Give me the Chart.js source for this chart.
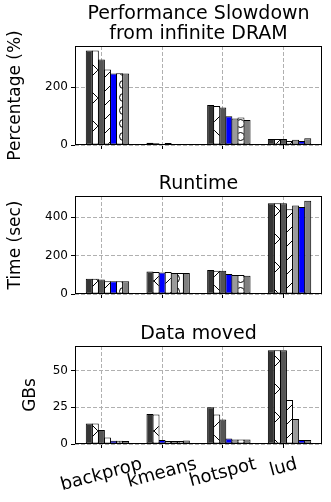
<!DOCTYPE html>
<html>
<head>
<meta charset="utf-8">
<script src="https://cdn.jsdelivr.net/npm/chart.js@4.4.0/dist/chart.umd.min.js"></script>
<style>
  body { margin: 0; background: #fff; }
  #wrap { position: relative; width: 331px; height: 502px; }
  canvas { position: absolute; left: 0; }
</style>
</head>
<body>
<div id="wrap">
  <canvas id="chartSlowdown" width="331" height="164" style="top:0"></canvas>
  <canvas id="chartRuntime" width="331" height="150" style="top:155px"></canvas>
  <canvas id="chartData" width="331" height="197" style="top:305px"></canvas>
</div>
<script>
Chart.defaults.font.family = "'DejaVu Sans', sans-serif";
Chart.defaults.color = '#000';

const categories = ['backprop', 'kmeans', 'hotspot', 'lud'];
// which configuration is highlighted in blue for each benchmark
const blueIndex = [4, 2, 3, 5];

// one row per configuration, values for backprop, kmeans, hotspot, lud
const slowdownPct = [
  [327, 8, 139, 21],
  [327, 6, 135, 21],
  [296, 3, 130, 21],
  [262, 7, 100, 14],
  [248, 1, 92, 18],
  [249, 1, 95, 14],
  [248, 1, 87, 23]
];
const runtimeSec = [
  [80, 117, 125, 473],
  [80, 115, 121, 473],
  [75, 112, 121, 473],
  [66, 115, 104, 442],
  [66, 110, 99, 462],
  [66, 110, 99, 453],
  [66, 110, 95, 486]
];
const dataMovedGB = [
  [14, 20.4, 25, 63.8],
  [14, 20, 20, 63.8],
  [9.5, 2.7, 16.7, 63.8],
  [4.5, 2, 3.8, 29.9],
  [2.2, 2, 3, 17],
  [2.2, 2, 3, 2.7],
  [2, 2.3, 3, 2.7]
];

const slowdownTicks = [0, 200];
const runtimeTicks = [0, 200, 400];
const dataMovedTicks = [0, 25, 50];

function hatch(kind) {
  const size = kind === 'o' ? 13 : (kind === 'x' ? 28 : 14);
  const c = document.createElement('canvas');
  c.width = c.height = size;
  const g = c.getContext('2d');
  g.fillStyle = '#fff';
  g.fillRect(0, 0, size, size);
  g.strokeStyle = '#000';
  g.lineWidth = 1;
  g.beginPath();
  if (kind === '/' || kind === 'x') {
    g.moveTo(-1, size + 1); g.lineTo(size + 1, -1);
  }
  if (kind === 'x') {
    g.moveTo(-1, -1); g.lineTo(size + 1, size + 1);
  }
  if (kind === 'o') {
    g.arc(size / 2, size / 2, 4, 0, Math.PI * 2);
  }
  g.stroke();
  return g.createPattern(c, 'repeat');
}

const baseFill = ['#353535', hatch('x'), '#555555', hatch('/'), '#9a9a9a', hatch('o'), '#808080'];

const panelDecor = {
  id: 'panelDecor',
  afterDraw(chart, args, opts) {
    const ctx = chart.ctx, a = chart.chartArea;
    ctx.save();
    ctx.strokeStyle = '#000';
    ctx.lineWidth = 1;
    ctx.strokeRect(Math.round(a.left) + 0.5, Math.round(a.top) + 0.5,
      Math.round(a.right - a.left) - 1, Math.round(a.bottom - a.top) - 1);

    ctx.fillStyle = '#000';
    ctx.font = '19px "DejaVu Sans"';
    ctx.textAlign = 'center';
    ctx.textBaseline = 'alphabetic';
    const cx = (a.left + a.right) / 2;
    const n = opts.title.length;
    opts.title.forEach((line, i) => {
      ctx.fillText(line, cx, a.top - 7 - (n - 1 - i) * 20);
    });

    if (opts.xLabels) {
      const xs = chart.scales.x;
      const th = 15 * Math.PI / 180;
      ctx.font = '18px "DejaVu Sans"';
      opts.xLabels.forEach((lab, i) => {
        const w = ctx.measureText(lab).width, h = 18 * 1.164;
        const H = w * Math.sin(th) + h * Math.cos(th);
        ctx.save();
        ctx.translate(xs.getPixelForValue(i), a.bottom + 10 + H / 2);
        ctx.rotate(-th);
        ctx.textBaseline = 'middle';
        ctx.fillText(lab, 0, 0);
        ctx.restore();
      });
    }
    ctx.restore();
  }
};

function makePanel(id, rows, o) {
  const datasets = rows.map((vals, k) => ({
    data: vals.map((v, i) => ({ x: i + 0.1, y: v })),
    backgroundColor: vals.map((v, i) => blueIndex[i] === k ? '#0000ff' : baseFill[k]),
    borderColor: '#000',
    borderWidth: 1,
    borderSkipped: false,
    categoryPercentage: 0.7,
    barPercentage: 1.15
  }));
  const gridStyle = { color: '#b0b0b0', lineWidth: 1, tickColor: '#000', tickLength: 4, offset: false };
  return new Chart(document.getElementById(id), {
    type: 'bar',
    data: { datasets },
    options: {
      responsive: false,
      animation: false,
      events: [],
      layout: { padding: { left: o.padLeft, right: 9, top: o.padTop, bottom: 0 } },
      plugins: {
        legend: { display: false },
        tooltip: { enabled: false },
        panelDecor: { title: o.title, xLabels: o.xLabels }
      },
      scales: {
        x: {
          type: 'linear',
          offset: false,
          min: -0.435,
          max: 3.635,
          afterBuildTicks: s => { s.ticks = categories.map((c, i) => ({ value: i })); },
          afterFit: s => { s.height = o.xHeight; },
          ticks: { display: false },
          grid: gridStyle,
          border: { display: false, dash: [4, 2] }
        },
        y: {
          min: 0,
          max: o.yMax,
          afterBuildTicks: s => { s.ticks = o.ticks.map(v => ({ value: v })); },
          afterFit: s => { s.width = 75 - o.padLeft; s.paddingTop = 0; s.paddingBottom = 0; },
          ticks: { font: { size: 12 }, color: '#000', padding: 3 },
          grid: gridStyle,
          border: { display: false, dash: [4, 2] },
          title: { display: true, text: o.yTitle, font: { size: 17 }, color: '#000', padding: { top: 0, bottom: 0 } }
        }
      }
    },
    plugins: [panelDecor]
  });
}

makePanel('chartSlowdown', slowdownPct, {
  title: ['Performance Slowdown', 'from infinite DRAM'], yTitle: 'Percentage (%)',
  yMax: 343, ticks: slowdownTicks, padLeft: 5, padTop: 46, xHeight: 19
});
makePanel('chartRuntime', runtimeSec, {
  title: ['Runtime'], yTitle: 'Time (sec)',
  yMax: 511, ticks: runtimeTicks, padLeft: 5, padTop: 41, xHeight: 11
});
makePanel('chartData', dataMovedGB, {
  title: ['Data moved'], yTitle: 'GBs', xLabels: categories,
  yMax: 66.7, ticks: dataMovedTicks, padLeft: 20, padTop: 41, xHeight: 58
});
</script>
</body>
</html>
